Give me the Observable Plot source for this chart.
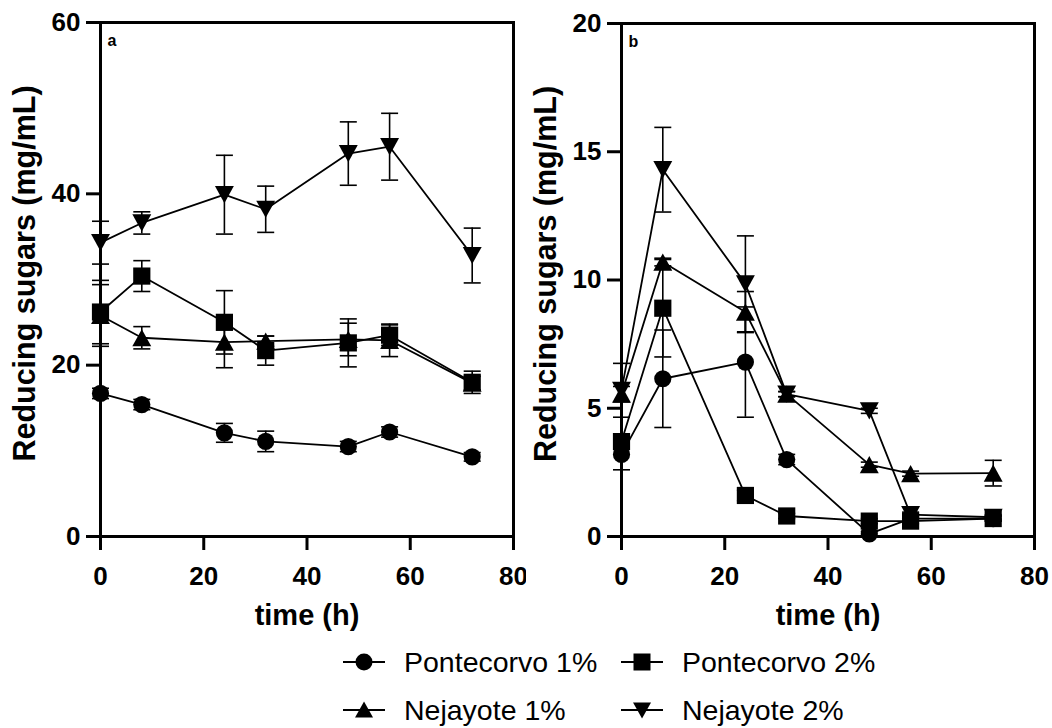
<!DOCTYPE html>
<html><head><meta charset="utf-8">
<script src="https://cdn.jsdelivr.net/npm/d3@7"></script>
<script src="https://cdn.jsdelivr.net/npm/@observablehq/plot@0.6"></script>
<style>
body{margin:0;background:#fff;font-family:"Liberation Sans",Arial,sans-serif;}
#wrap{position:relative;width:1052px;height:728px;overflow:hidden;}
#a{position:absolute;left:0;top:0}
#b{position:absolute;left:526px;top:0}
.lg{position:absolute;display:flex;align-items:center;font-size:28.5px;color:#000;white-space:nowrap;}
.lg svg{margin-right:19px}
</style></head><body><div id="wrap"><div id="a"></div><div id="b"></div></div>
<script>
// ---- data ----
const times = [0, 8, 24, 32, 48, 56, 72];
const seriesNames = ["Pontecorvo 1%", "Pontecorvo 2%", "Nejayote 1%", "Nejayote 2%"];
const xTicks = [0, 20, 40, 60, 80];
const yTicksA = [0, 20, 40, 60];
const yTicksB = [0, 5, 10, 15, 20];
const yLabel = "Reducing sugars (mg/mL)";
const xLabel = "time (h)";

// panel a (means, SD)
const pontecorvo1A = [16.7, 15.4, 12.1, 11.1, 10.5, 12.2, 9.3];
const pontecorvo1A_sd = [0.6, 0.6, 1.1, 1.2, 0.6, 0.6, 0.5];
const pontecorvo2A = [26.2, 30.4, 25.0, 21.7, 22.6, 23.5, 18.0];
const pontecorvo2A_sd = [3.7, 1.8, 3.7, 1.7, 2.8, 1.2, 1.3];
const nejayote1A = [25.8, 23.2, 22.7, 22.8, 23.0, 22.9, 17.9];
const nejayote1A_sd = [3.6, 1.3, 3.0, 0.6, 1.9, 1.9, 0.8];
const nejayote2A = [34.3, 36.6, 39.9, 38.2, 44.7, 45.5, 32.8];
const nejayote2A_sd = [2.5, 1.3, 4.6, 2.7, 3.7, 3.9, 3.2];

// panel b (means, SD)
const pontecorvo1B = [3.2, 6.15, 6.8, 3.0, 0.1, 0.7, 0.7];
const pontecorvo1B_sd = [0.6, 1.9, 2.15, 0.2, 0.1, 0.1, 0.1];
const pontecorvo2B = [3.7, 8.9, 1.6, 0.8, 0.6, 0.6, 0.7];
const pontecorvo2B_sd = [0.3, 1.9, 0.2, 0.1, 0.1, 0.1, 0.1];
const nejayote1B = [5.55, 10.7, 8.75, 5.55, 2.8, 2.45, 2.47];
const nejayote1B_sd = [0.3, 0.15, 0.8, 0.1, 0.1, 0.1, 0.5];
const nejayote2B = [5.7, 14.3, 9.85, 5.55, 4.9, 0.85, 0.75];
const nejayote2B_sd = [1.05, 1.65, 1.87, 0.1, 0.1, 0.1, 0.1];

// ---- symbols ----
function sym(fn) { return {draw(ctx, size) { fn(ctx, Math.sqrt(size / Math.PI)); }}; }
const circleSym = sym((c, r) => { c.moveTo(r, 0); c.arc(0, 0, r, 0, 2 * Math.PI); c.closePath(); });
const squareSym = sym((c, r) => { c.rect(-r, -r, 2 * r, 2 * r); });
const upSym = sym((c, r) => { c.moveTo(0, -r); c.lineTo(1.1 * r, r); c.lineTo(-1.1 * r, r); c.closePath(); });
const downSym = sym((c, r) => { c.moveTo(0, r); c.lineTo(1.1 * r, -r); c.lineTo(-1.1 * r, -r); c.closePath(); });
const capSym = sym((c, r) => { c.moveTo(-r, 0); c.lineTo(r, 0); });
const symbols = [circleSym, squareSym, upSym, downSym];

function rowsFor(means, sds) {
  const out = [];
  means.forEach((m, s) => times.forEach((t, i) => out.push({series: seriesNames[s], s, t, v: m[i], sd: sds[s][i]})));
  return out;
}

function panel({rows, yDomain, yTicks, letter, marginLeft, marginRight, marginTop}) {
  const marks = [
    Plot.ruleX(rows, {x: "t", y1: d => d.v - d.sd, y2: d => d.v + d.sd, stroke: "black", strokeWidth: 1.6}),
    Plot.dot(rows, {x: "t", y: d => d.v + d.sd, symbol: capSym, r: 8.5, stroke: "black", strokeWidth: 1.6, fill: "none"}),
    Plot.dot(rows, {x: "t", y: d => d.v - d.sd, symbol: capSym, r: 8.5, stroke: "black", strokeWidth: 1.6, fill: "none"}),
    Plot.line(rows, {x: "t", y: "v", z: "series", stroke: "black", strokeWidth: 1.8}),
  ];
  seriesNames.forEach((name, s) => {
    marks.push(Plot.dot(rows.filter(d => d.s === s), {x: "t", y: "v", symbol: symbols[s], r: 8.6, fill: "black", stroke: "none"}));
  });
  marks.push(
    Plot.frame({stroke: "black", strokeWidth: 3}),
    Plot.axisX({ticks: xTicks, tickSize: 14, tickPadding: 16, strokeWidth: 3, fontSize: 26, fontWeight: "bold", label: null}),
    Plot.axisY({ticks: yTicks, tickSize: 14, tickPadding: 6, strokeWidth: 3, fontSize: 26, fontWeight: "bold", label: null}),
    Plot.text([letter], {text: d => d, frameAnchor: "top-left", dx: 7, dy: 12, fontSize: 16, fontWeight: "bold", textAnchor: "start"}),
    Plot.text([yLabel], {text: d => d, frameAnchor: "left", textAnchor: "middle", rotate: -90, dx: -75, dy: -6, fontSize: 30.5, fontWeight: "bold"}),
    Plot.text([xLabel], {text: d => d, frameAnchor: "bottom", dy: 88, fontSize: 29, fontWeight: "bold"})
  );
  return Plot.plot({
    width: 526, height: 640,
    marginLeft, marginRight, marginTop, marginBottom: 104,
    style: {fontFamily: "'Liberation Sans', Arial, sans-serif", color: "black", background: "white", overflow: "visible"},
    x: {domain: [0, 80]},
    y: {domain: yDomain},
    marks
  });
}

const rowsA = rowsFor([pontecorvo1A, pontecorvo2A, nejayote1A, nejayote2A], [pontecorvo1A_sd, pontecorvo2A_sd, nejayote1A_sd, nejayote2A_sd]);
const rowsB = rowsFor([pontecorvo1B, pontecorvo2B, nejayote1B, nejayote2B], [pontecorvo1B_sd, pontecorvo2B_sd, nejayote1B_sd, nejayote2B_sd]);

document.getElementById("a").append(panel({rows: rowsA, yDomain: [0, 60], yTicks: yTicksA, letter: "a", marginLeft: 100, marginRight: 13, marginTop: 22}));
document.getElementById("b").append(panel({rows: rowsB, yDomain: [0, 20], yTicks: yTicksB, letter: "b", marginLeft: 95, marginRight: 18, marginTop: 23}));

// ---- legend ----
const legendPos = [[343, 662], [621, 662], [343, 710], [621, 710]];
const symPaths = [
  '<circle cx="21" cy="12" r="8.5"/>',
  '<rect x="12.5" y="3.5" width="17" height="17"/>',
  '<path d="M21,3.5 L30,19.5 L12,19.5Z"/>',
  '<path d="M21,20.5 L30,4.5 L12,4.5Z"/>'
];
const wrap = document.getElementById("wrap");
seriesNames.forEach((name, i) => {
  const el = document.createElement("div");
  el.className = "lg";
  el.style.left = legendPos[i][0] + "px";
  el.style.top = (legendPos[i][1] - 17) + "px";
  el.style.height = "34px";
  el.innerHTML = `<svg width="42" height="24" viewBox="0 0 42 24"><line x1="0" y1="12" x2="42" y2="12" stroke="black" stroke-width="2"/><g fill="black">${symPaths[i]}</g></svg><span>${name}</span>`;
  wrap.append(el);
});
</script></body></html>
